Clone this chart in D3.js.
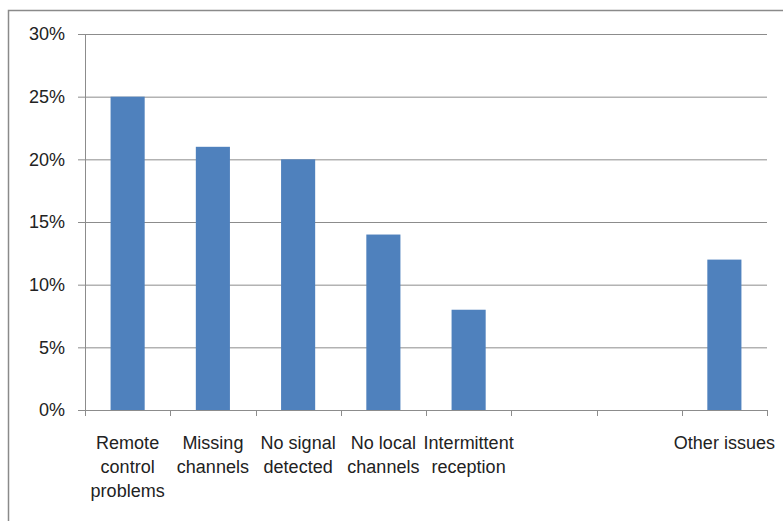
<!DOCTYPE html>
<html>
<head>
<meta charset="utf-8">
<script src="https://cdn.jsdelivr.net/npm/d3@7"></script>
<style>
  html, body { margin: 0; padding: 0; background: #fff; }
  svg { display: block; }
  text { font-family: "Liberation Sans", Arial, sans-serif; fill: #222; }
</style>
</head>
<body>
<svg id="chart" width="783" height="521"></svg>
<script>
// Share of reported issues by category (blank slots keep their place on the axis)
const categories = [
  "Remote\ncontrol\nproblems",
  "Missing\nchannels",
  "No signal\ndetected",
  "No local\nchannels",
  "Intermittent\nreception",
  "",
  " ",
  "Other issues"
];
const values = [0.25, 0.21, 0.20, 0.14, 0.08, null, null, 0.12];
const yTicks = [0, 0.05, 0.10, 0.15, 0.20, 0.25, 0.30];

const svg = d3.select("#chart");
const plot = { left: 85, right: 767, top: 34, bottom: 410 };
const fontSize = 18;

// Outer chart frame
svg.append("rect")
  .attr("x", 8.5).attr("y", 10.5)
  .attr("width", 800).attr("height", 540)
  .attr("fill", "none").attr("stroke", "#8a8a8a").attr("stroke-width", 1.5);

const x = d3.scaleBand().domain(categories).range([plot.left, plot.right]).paddingInner(0).paddingOuter(0);
const y = d3.scaleLinear().domain([0, 0.30]).range([plot.bottom, plot.top]);

// Horizontal gridlines with short tick marks
const yAxis = d3.axisLeft(y).tickValues(yTicks).tickFormat(d3.format(".0%"))
  .tickSize(-(plot.right - plot.left)).tickPadding(20);
const gy = svg.append("g").attr("transform", `translate(${plot.left},0)`).call(yAxis);
gy.select(".domain").remove();
gy.selectAll(".tick line").attr("stroke", "#8c8c8c").attr("x1", -7);
gy.selectAll(".tick text").attr("font-size", fontSize).attr("fill", "#222")
  .style("font-family", '"Liberation Sans", Arial, sans-serif');

// Vertical axis line
svg.append("line")
  .attr("x1", plot.left + 0.5).attr("x2", plot.left + 0.5)
  .attr("y1", plot.top).attr("y2", plot.bottom)
  .attr("stroke", "#8c8c8c");

// Bars
const barW = x.bandwidth() / 2.5;
svg.append("g").selectAll("rect")
  .data(categories.map((c, i) => ({ c, v: values[i] })).filter(d => d.v != null))
  .join("rect")
  .attr("x", d => x(d.c) + (x.bandwidth() - barW) / 2)
  .attr("y", d => y(d.v))
  .attr("width", barW)
  .attr("height", d => y(0) - y(d.v))
  .attr("fill", "#4F81BD");

// Category axis: baseline, tick marks at band edges, wrapped labels
svg.append("line")
  .attr("x1", plot.left).attr("x2", plot.right)
  .attr("y1", plot.bottom + 0.5).attr("y2", plot.bottom + 0.5)
  .attr("stroke", "#8c8c8c");

const edges = categories.map(c => x(c)).concat([plot.right]);
svg.append("g").selectAll("line").data(edges).join("line")
  .attr("x1", d => Math.round(d) + 0.5).attr("x2", d => Math.round(d) + 0.5)
  .attr("y1", plot.bottom).attr("y2", plot.bottom + 6)
  .attr("stroke", "#8c8c8c");

const labels = svg.append("g").selectAll("text").data(categories).join("text")
  .attr("text-anchor", "middle")
  .attr("font-size", fontSize)
  .attr("transform", d => `translate(${x(d) + x.bandwidth() / 2},449)`);
labels.selectAll("tspan").data(d => d.trim() ? d.split("\n") : []).join("tspan")
  .attr("x", 0).attr("y", (d, i) => i * 24)
  .text(d => d);
</script>
</body>
</html>
